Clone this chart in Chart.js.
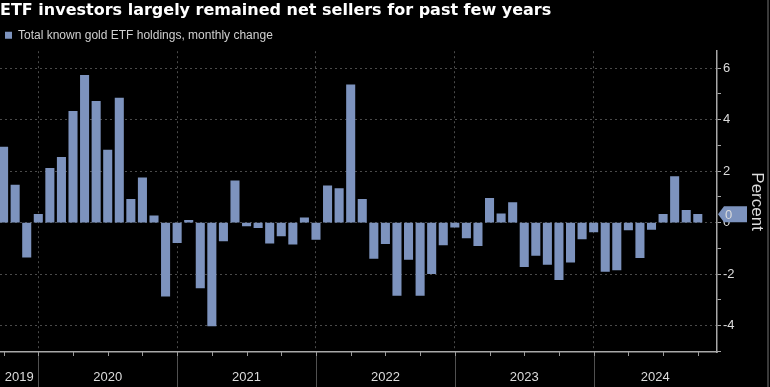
<!DOCTYPE html>
<html>
<head>
<meta charset="utf-8">
<script src="https://cdn.jsdelivr.net/npm/chart.js@4/dist/chart.umd.min.js"></script>
<style>
  html, body { margin: 0; padding: 0; background: #000; }
  #wrap { width: 770px; height: 387px; position: relative; }
</style>
</head>
<body>
<div id="wrap"><canvas id="c"></canvas></div>
<script>
// ---- data ----
const months = [
  '2019-09','2019-10','2019-11','2019-12',
  '2020-01','2020-02','2020-03','2020-04','2020-05','2020-06','2020-07','2020-08','2020-09','2020-10','2020-11','2020-12',
  '2021-01','2021-02','2021-03','2021-04','2021-05','2021-06','2021-07','2021-08','2021-09','2021-10','2021-11','2021-12',
  '2022-01','2022-02','2022-03','2022-04','2022-05','2022-06','2022-07','2022-08','2022-09','2022-10','2022-11','2022-12',
  '2023-01','2023-02','2023-03','2023-04','2023-05','2023-06','2023-07','2023-08','2023-09','2023-10','2023-11','2023-12',
  '2024-01','2024-02','2024-03','2024-04','2024-05','2024-06','2024-07','2024-08','2024-09'
];
const changes = [
  2.93, 1.46, -1.34, 0.32,
  2.11, 2.54, 4.32, 5.72, 4.71, 2.82, 4.84, 0.90, 1.74, 0.26, -2.86, -0.78,
  0.09, -2.54, -4.02, -0.71, 1.62, -0.13, -0.20, -0.80, -0.52, -0.84, 0.18, -0.65,
  1.43, 1.32, 5.35, 0.90, -1.39, -0.82, -2.83, -1.43, -2.83, -1.99, -0.87, -0.18,
  -0.60, -0.90, 0.94, 0.34, 0.78, -1.71, -1.28, -1.63, -2.22, -1.54, -0.64, -0.36,
  -1.90, -1.84, -0.29, -1.36, -0.27, 0.32, 1.79, 0.48, 0.32
];
const yearLabels = ['2019', '2020', '2021', '2022', '2023', '2024'];
const yTickValues = [-5, -4, -3, -2, -1, 0, 1, 2, 3, 4, 5, 6];

// ---- derived ----
const X_MIN = -0.31, X_MAX = 61.66;
const BAR = 'rgb(125,147,190)';
const GRID = '#4a4a4a';
const AXIS = '#a8a8a8';
const TXT = '#dcdcdc';
const decIdx = months.map((m, i) => m.endsWith('-12') ? i : -1).filter(i => i >= 0);
const quarterIdx = months.map((m, i) => ['03','06','09','12'].includes(m.slice(5)) ? i : -1).filter(i => i >= 0);
const bounds = [X_MIN, ...decIdx, X_MAX];
const labelPos = yearLabels.map((y, k) => (bounds[k] + bounds[k + 1]) / 2);
const xTickVals = Array.from(new Set([...quarterIdx, ...labelPos])).sort((a, b) => a - b);

Chart.defaults.font.family = "'Liberation Sans', Arial, sans-serif";

const decor = {
  id: 'decor',
  afterDraw(chart) {
    const { ctx, chartArea } = chart;
    const xs = chart.scales.x;
    ctx.save();
    // year separators below the axis
    ctx.strokeStyle = '#505050';
    ctx.lineWidth = 1;
    decIdx.forEach(i => {
      const x = Math.round(xs.getPixelForValue(i)) + 0.5;
      ctx.beginPath();
      ctx.moveTo(x, chartArea.bottom);
      ctx.lineTo(x, chart.height);
      ctx.stroke();
    });
    // quarterly minor ticks
    ctx.strokeStyle = '#9a9a9a';
    quarterIdx.forEach(i => {
      const x = Math.round(xs.getPixelForValue(i)) + 0.5;
      ctx.beginPath();
      ctx.moveTo(x, chartArea.bottom);
      ctx.lineTo(x, chartArea.bottom + 4);
      ctx.stroke();
    });
    // last value tag
    const last = changes[changes.length - 1];
    const y = chart.scales.y.getPixelForValue(last);
    const x0 = chartArea.right + 1;
    ctx.fillStyle = BAR;
    ctx.beginPath();
    ctx.moveTo(x0, y);
    ctx.lineTo(x0 + 6, y - 8);
    ctx.lineTo(x0 + 29, y - 8);
    ctx.lineTo(x0 + 29, y + 8);
    ctx.lineTo(x0 + 6, y + 8);
    ctx.closePath();
    ctx.fill();
    ctx.fillStyle = TXT;
    ctx.font = "13px 'Liberation Sans', Arial, sans-serif";
    ctx.textBaseline = 'middle';
    ctx.textAlign = 'left';
    ctx.fillText(String(Math.round(last)), x0 + 7, y + 1);
    // right frame edge
    ctx.fillStyle = '#3a3a3a';
    ctx.fillRect(767, 0, 2, chart.height);
    ctx.restore();
  }
};

new Chart(document.getElementById('c'), {
  type: 'bar',
  data: {
    datasets: [{
      label: 'Total known gold ETF holdings, monthly change',
      data: changes.map((v, i) => ({ x: i, y: v })),
      backgroundColor: BAR,
      borderWidth: 0,
      barThickness: 8.4,
      clip: 0
    }]
  },
  options: {
    responsive: true,
    maintainAspectRatio: false,
    animation: false,
    events: [],
    layout: { padding: 0 },
    plugins: {
      title: {
        display: true,
        text: 'ETF investors largely remained net sellers for past few years',
        align: 'start',
        color: '#ffffff',
        font: { family: "'DejaVu Sans', sans-serif", size: 16, weight: 'bold' },
        padding: { top: 1, bottom: 4 }
      },
      legend: {
        display: true,
        align: 'start',
        labels: {
          color: '#d0d0d0',
          font: { size: 12 },
          boxWidth: 7,
          boxHeight: 7,
          padding: 5
        }
      },
      tooltip: { enabled: false }
    },
    scales: {
      x: {
        type: 'linear',
        offset: false,
        min: X_MIN,
        max: X_MAX,
        afterBuildTicks: s => { s.ticks = xTickVals.map(v => ({ value: v })); },
        afterFit: s => { s.height = 35; s.paddingLeft = 0; s.paddingRight = 0; },
        grid: {
          offset: false,
          color: c => (c.tick && decIdx.includes(c.tick.value)) ? GRID : 'rgba(0,0,0,0)',
          drawTicks: false
        },
        border: { display: true, color: AXIS, width: 1.5, dash: [2, 3] },
        ticks: {
          autoSkip: false,
          maxRotation: 0,
          color: TXT,
          font: { size: 13 },
          padding: 18,
          callback: v => {
            const k = labelPos.findIndex(p => Math.abs(p - v) < 1e-6);
            return k >= 0 ? yearLabels[k] : '';
          }
        }
      },
      y: {
        position: 'right',
        min: -5.03,
        max: 6.66,
        afterBuildTicks: s => { s.ticks = yTickValues.map(v => ({ value: v })); },
        afterFit: s => { s.width = 53; },
        grid: {
          color: c => (c.tick && c.tick.value % 2 === 0) ? GRID : 'rgba(0,0,0,0)',
          tickColor: AXIS,
          tickLength: 4
        },
        border: { display: true, color: AXIS, width: 1.5, dash: [2, 3] },
        ticks: {
          color: TXT,
          font: { size: 13 },
          padding: 2,
          callback: v => (v % 2 === 0) ? String(v) : ''
        },
        title: {
          display: true,
          text: 'Percent',
          color: TXT,
          font: { size: 17 },
          padding: { top: 3, bottom: 4 }
        }
      }
    }
  },
  plugins: [decor]
});
</script>
</body>
</html>
